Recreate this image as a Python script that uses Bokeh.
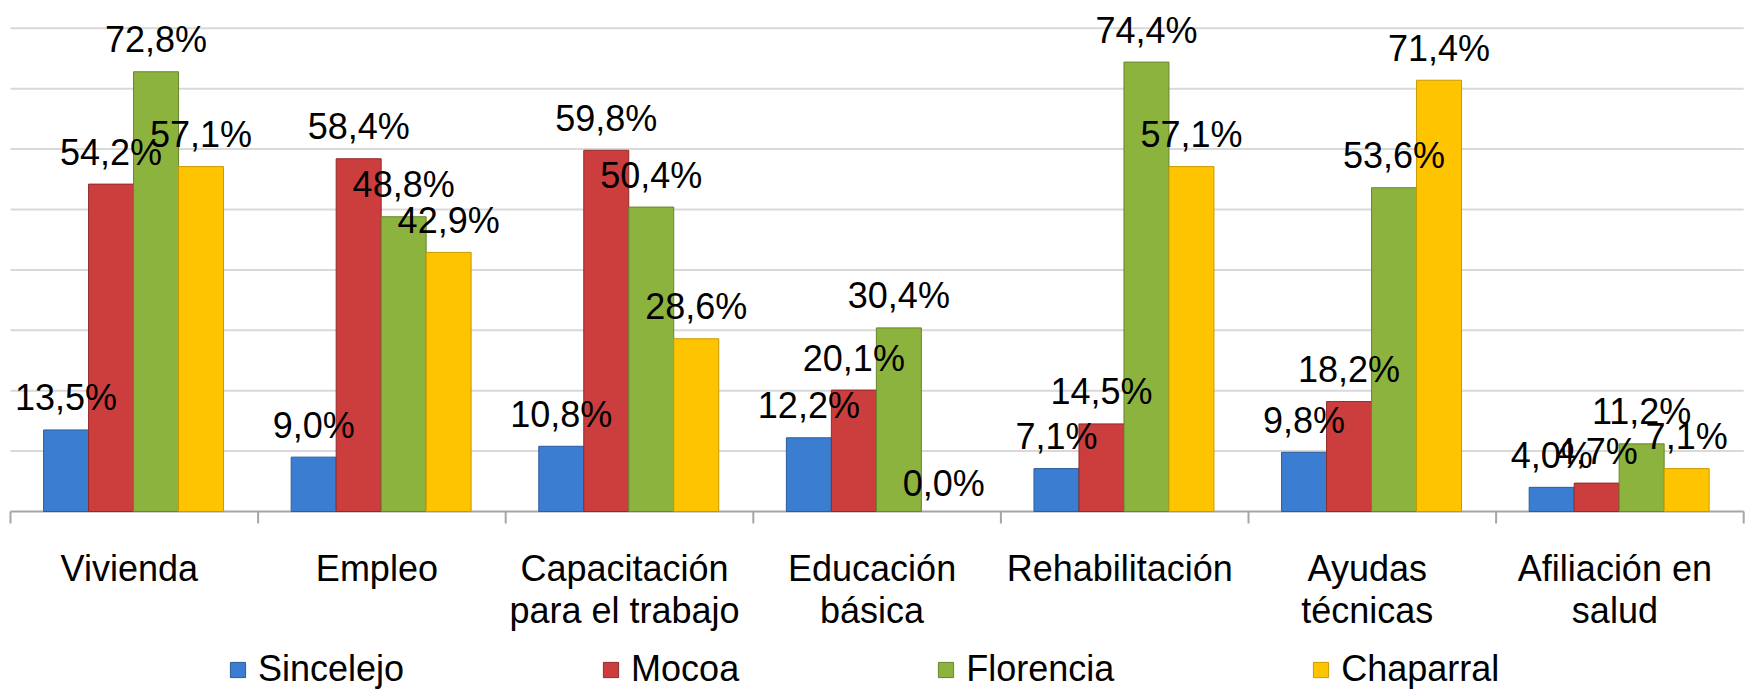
from bokeh.plotting import figure
from bokeh.models import Range1d, ColumnDataSource, Legend, LegendItem
from bokeh.core.properties import value
from bokeh.embed import file_html
from bokeh.resources import INLINE

categories = ["Vivienda", "Empleo", "Capacitación\npara el trabajo", "Educación\nbásica",
              "Rehabilitación", "Ayudas\ntécnicas", "Afiliación en\nsalud"]
series = ["Sincelejo", "Mocoa", "Florencia", "Chaparral"]
sincelejo = [13.5, 9.0, 10.8, 12.2, 7.1, 9.8, 4.0]
mocoa = [54.2, 58.4, 59.8, 20.1, 14.5, 18.2, 4.7]
florencia = [72.8, 48.8, 50.4, 30.4, 74.4, 53.6, 11.2]
chaparral = [57.1, 42.9, 28.6, 0.0, 57.1, 71.4, 7.1]
colors = ["#3b7dd0", "#cc3e3e", "#8db33f", "#fec400"]
edge_colors = ["#2a5c9e", "#932a2a", "#66852c", "#c99a00"]
grid_ticks = [10, 20, 30, 40, 50, 60, 70, 80]

values = [sincelejo, mocoa, florencia, chaparral]
FONT = "Liberation Sans"

W, H = 1754, 691
p = figure(width=W, height=H, output_backend="svg", toolbar_location=None,
           x_axis_location=None, y_axis_location=None, min_border=0,
           x_range=Range1d(-0.0404, 7.0436), y_range=Range1d(-29.8, 84.6),
           outline_line_color=None)
p.grid.visible = False

n = len(categories)
bw = 0.1817
px_per_unit = 6.04  # screen px per percentage point

# horizontal gridlines across the category span
p.segment(x0=[0] * len(grid_ticks), y0=grid_ticks, x1=[n] * len(grid_ticks), y1=grid_ticks,
          line_color="#d9d9d9", line_width=2)

# axis line and boundary ticks
p.segment(x0=[0], y0=[0], x1=[n], y1=[0], line_color="#a6a6a6", line_width=2)
p.segment(x0=list(range(n + 1)), y0=[0] * (n + 1), x1=list(range(n + 1)),
          y1=[-12 / px_per_unit] * (n + 1), line_color="#a6a6a6", line_width=2)

items = []
label_sources = []
for k, (name, vals) in enumerate(zip(series, values)):
    xs = [i + 0.497 + (k - 1.5) * bw for i in range(n)]
    src = ColumnDataSource(dict(x=xs, top=vals,
                                lc=[edge_colors[k] if v > 0 else None for v in vals],
                                lbl=[f"{v:.1f}".replace(".", ",") + "%" for v in vals],
                                ly=[v + (28 if v == 0 else 32) / px_per_unit for v in vals]))
    r = p.vbar(x="x", top="top", bottom=0, width=bw, source=src,
               fill_color=colors[k], line_color="lc", line_width=1)
    items.append(LegendItem(label=name, renderers=[r]))
    label_sources.append(src)

# data labels drawn above all bars
for src in label_sources:
    p.text(x="x", y="ly", text="lbl", source=src, text_align="center",
           text_baseline="middle", text_font=value(FONT), text_font_size="36px",
           text_color="black")

# category labels (one text row per line)
line_gap = 42 / px_per_unit
base_y = -57 / px_per_unit
lx, ly, lt = [], [], []
for i, c in enumerate(categories):
    for j, line in enumerate(c.split("\n")):
        lx.append(i + 0.5)
        ly.append(base_y - j * line_gap)
        lt.append(line)
p.text(x=lx, y=ly, text=lt, x_offset=-5, text_align="center", text_baseline="alphabetic",
       text_font=value(FONT), text_font_size="36px", text_color="black")

legend = Legend(items=items, orientation="horizontal", location=(228, 1),
                glyph_width=19, glyph_height=19, label_standoff=11, spacing=197,
                padding=0, margin=0, border_line_alpha=0, background_fill_alpha=0,
                label_text_font=FONT, label_text_font_size="36px", label_text_color="black")
p.add_layout(legend)

open("out.html", "w").write(file_html(p, INLINE))
